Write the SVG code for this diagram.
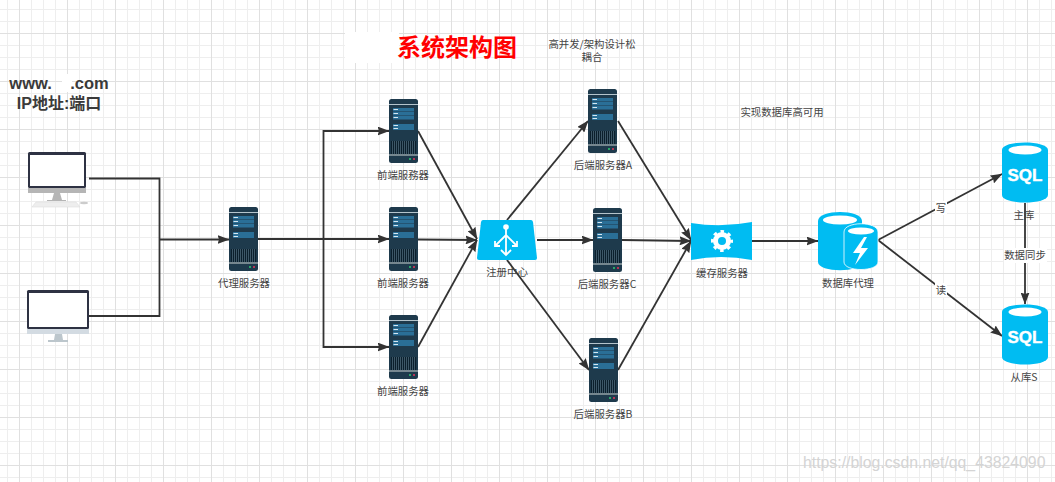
<svg xmlns="http://www.w3.org/2000/svg" width="1055" height="482" viewBox="0 0 1055 482">
<style>
.lbl{font-family:"Noto Sans CJK SC","Liberation Sans",sans-serif;font-size:10.4px;fill:#444;text-anchor:middle}
.big{font-family:"Liberation Sans","Noto Sans CJK SC",sans-serif;font-size:16px;font-weight:bold;fill:#3a3a3a;text-anchor:middle}
.c{fill:none;stroke:#333;stroke-width:1.8}
.a{marker-end:url(#arr)}
.cy{fill:#00bcf2}
</style>
<defs>
<pattern id="grid" width="48" height="48" patternUnits="userSpaceOnUse" x="19" y="33">
<path d="M12.500 0V48M24.500 0V48M36.500 0V48M0 12.500H48M0 24.500H48M0 36.500H48" fill="none" stroke="#eeeeee" stroke-width="1"/>
<path d="M.5 0V48M0 .5H48" fill="none" stroke="#e0e0e0" stroke-width="1"/>
</pattern>
<marker id="arr" viewBox="0 0 12 9" refX="11.500" refY="4.500" markerWidth="12" markerHeight="9" markerUnits="userSpaceOnUse" orient="auto"><path d="M0 0L12 4.500L0 9L1.500 4.500Z" fill="#333"/></marker>
<g id="srv">
<rect width="29" height="64" rx="2.500" fill="#1e3a4c"/>
<rect y="5" width="29" height="1" fill="#b4c4cc"/>
<rect x="4" y="9" width="21" height="3.500" fill="#2a6f97"/>
<rect x="4" y="13" width="21" height="3.500" fill="#2a6f97"/>
<rect x="4" y="17" width="21" height="3.500" fill="#2a6f97"/>
<rect x="4" y="25" width="21" height="6" fill="#2a6f97"/>
<path d="M4.500 10.500H9M4.500 14.500H9M4.500 18.500H9M4.500 26.500H9M4.500 29.500H9" stroke="#d6e8f2" stroke-width="1"/>
<rect x="2" y="42" width="25" height="13" fill="#0b1f2c"/>
<path d="M3.500 42V55M5.500 42V55M7.500 42V55M9.500 42V55M11.500 42V55M13.500 42V55M15.500 42V55M17.500 42V55M19.500 42V55M21.500 42V55M23.500 42V55M25.500 42V55" stroke="#4a6676" stroke-width=".8"/>
<rect y="55" width="29" height="2" fill="#76878f"/>
<circle cx="21" cy="60" r="1" fill="#2ecc71"/><circle cx="25" cy="60" r="1" fill="#e8355a"/>
</g>
<g id="sql">
<path class="cy" d="M0 8C0 -2 46 -2 46 8V53C46 63 0 63 0 53Z"/>
<ellipse cx="23" cy="8" rx="16.500" ry="4.500" fill="#fff"/>
<text x="23" y="39" font-family="Liberation Sans,sans-serif" font-size="17" font-weight="bold" fill="#fff" stroke="#fff" stroke-width=".4" text-anchor="middle">SQL</text>
</g>
</defs>
<rect width="1055" height="482" fill="#fff"/>
<rect width="1055" height="482" fill="url(#grid)"/>
<rect x="345" y="32" width="54" height="31" fill="#fff"/>
<rect x="62" y="74" width="10" height="18" fill="#fff"/>

<g id="connectors">
<path class="c" d="M89 178.500H159.500V239"/>
<path class="c" d="M89 316H159.500V239"/>
<path class="c a" d="M159.500 239.500H229"/>
<path class="c a" d="M258 239H323.500V131H389"/>
<path class="c a" d="M258 239H389"/>
<path class="c a" d="M258 239H323.500V347H389"/>
<path class="c a" d="M418 131L477 239"/>
<path class="c a" d="M418 239.500L477 240"/>
<path class="c a" d="M418 347L477 240"/>
<path class="c a" d="M507 220L588 121"/>
<path class="c a" d="M537 240H593"/>
<path class="c a" d="M507 260L589 370"/>
<path class="c a" d="M618 121L691 240"/>
<path class="c a" d="M622 240L691 241"/>
<path class="c a" d="M618 370L691 241"/>
<path class="c a" d="M752 241H818"/>
<path class="c a" d="M878 240L1002 174"/>
<path class="c a" d="M878 240L1002 336"/>
<path class="c a" d="M1025 203V304"/>
<rect x="935" y="201" width="12" height="14" fill="#fff"/>
<text class="lbl" x="941" y="212">写</text>
<rect x="935" y="283" width="12" height="14" fill="#fff"/>
<text class="lbl" x="941" y="294">读</text>
<rect x="1004" y="248" width="43" height="15" fill="#fff"/>
<text class="lbl" x="1025" y="259">数据同步</text>
</g>

<g id="title"><text x="457" y="56" font-family="Noto Sans CJK SC,sans-serif" font-size="24" font-weight="bold" fill="#f00" text-anchor="middle">系统架构图</text></g>
<g id="note1"><text class="lbl" x="592" y="48">高并发/架构设计松</text><text class="lbl" x="592" y="61">耦合</text></g>
<g id="note2"><text class="lbl" x="782" y="116">实现数据库高可用</text></g>
<g id="domain"><text class="big" x="59" y="89" style="font-size:16.500px">www.&#160;&#160;&#160;&#160;.com</text><text class="big" x="59" y="109">IP地址:端口</text></g>

<g id="client1">
<rect x="28" y="152" width="58" height="36" rx="1.500" fill="#2e3243"/>
<rect x="30" y="155" width="54" height="31" fill="#fff"/>
<rect x="28" y="188" width="58" height="5" fill="#b5b5b5"/>
<path d="M54 193H60L62 200H66V201H47V200H52Z" fill="#b5b5b5"/>
<path d="M36 202H76L80 207H32Z" fill="#eee" stroke="#ddd" stroke-width=".6"/>
<ellipse cx="84" cy="203" rx="4" ry="1.200" fill="#ccc"/>
</g>
<g id="client2">
<rect x="27" y="290" width="62" height="39" rx="1.500" fill="#2e3243"/>
<rect x="29" y="293" width="58" height="34" fill="#fff"/>
<rect x="27" y="329" width="62" height="5" fill="#d3dbe2"/>
<path d="M55 334H62L63 340H68V342H48V340H54Z" fill="#bcc6cc"/>
</g>

<g id="proxy"><use href="#srv" x="229" y="207"/><text class="lbl" x="244" y="287">代理服务器</text></g>
<g id="front1"><use href="#srv" x="389" y="99"/><text class="lbl" x="403" y="179">前端服務器</text></g>
<g id="front2"><use href="#srv" x="389" y="207"/><text class="lbl" x="403" y="287">前端服务器</text></g>
<g id="front3"><use href="#srv" x="389" y="315"/><text class="lbl" x="403" y="395">前端服务器</text></g>
<g id="backA"><use href="#srv" x="588" y="89"/><text class="lbl" x="603" y="169">后端服务器A</text></g>
<g id="backC"><use href="#srv" x="593" y="208"/><text class="lbl" x="607" y="288">后端服务器C</text></g>
<g id="backB"><use href="#srv" x="589" y="338"/><text class="lbl" x="603" y="418">后端服务器B</text></g>

<g id="registry">
<path class="cy" d="M483 220H531Q532.500 220 533 222L537 258Q537 260 535 260H479Q477 260 477 258L481 222Q481.500 220 483 220Z"/>
<circle cx="506" cy="227" r="2.800" fill="#fff"/>
<path d="M506 228V255M495 246L506 235L517 246M501 250L506 255L511 250M495 241V246H500M517 241V246H512" fill="none" stroke="#fff" stroke-width="1.800"/>
<text class="lbl" x="507" y="276">注册中心</text>
</g>
<g id="cache">
<path class="cy" d="M691 223Q721 228 752 222V260Q721 254 691 260Z"/>
<circle cx="722" cy="241" r="6.500" fill="none" stroke="#fff" stroke-width="5"/>
<circle cx="722" cy="241" r="9.500" fill="none" stroke="#fff" stroke-width="3" stroke-dasharray="3.500 3.960" stroke-dashoffset="1.750"/>
<text class="lbl" x="722" y="277">缓存服务器</text>
</g>
<g id="dbproxy">
<path class="cy" d="M818 221C818 209 862 209 862 221V262C862 273 818 273 818 262Z"/>
<ellipse cx="840" cy="220" rx="17" ry="4.500" fill="#fff"/>
<path class="cy" d="M844 232C844 221 878 221 878 232V262C878 272 844 272 844 262Z" stroke="#fff" stroke-width=".8"/>
<ellipse cx="861" cy="231" rx="13" ry="3.500" fill="#fff"/>
<path d="M864 237L853 253H860L855 265L868 248H861L867 237Z" fill="#fff"/>
<text class="lbl" x="848" y="287">数据库代理</text>
</g>
<g id="master"><use href="#sql" x="1002" y="142"/><text class="lbl" x="1024" y="219">主库</text></g>
<g id="slave"><use href="#sql" x="1002" y="304"/><text class="lbl" x="1024" y="381">从库S</text></g>
<g id="watermark"><text x="803" y="468" font-family="Liberation Sans,sans-serif" font-size="15.800" fill="#d4d4d4">https://blog.csdn.net/qq_43824090</text></g>
</svg>
